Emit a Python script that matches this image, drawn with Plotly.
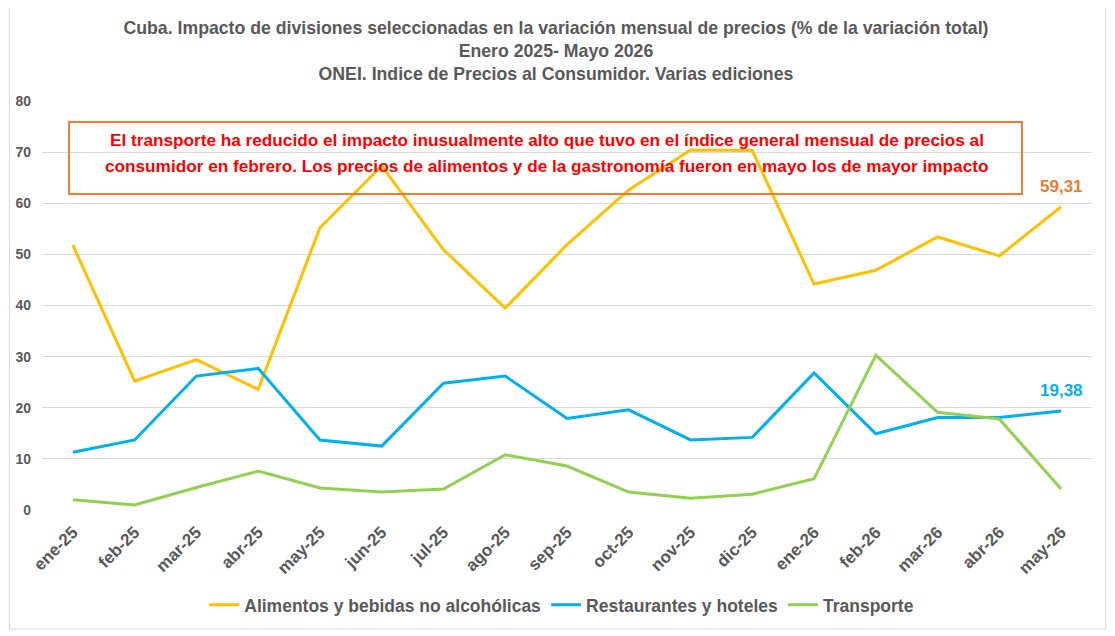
import plotly.graph_objects as go

meses = ['ene-25', 'feb-25', 'mar-25', 'abr-25', 'may-25', 'jun-25', 'jul-25', 'ago-25',
         'sep-25', 'oct-25', 'nov-25', 'dic-25', 'ene-26', 'feb-26', 'mar-26', 'abr-26', 'may-26']
alimentos = [51.8, 25.2, 29.4, 23.6, 55.2, 67.3, 50.9, 39.5,
             51.9, 62.6, 70.4, 70.3, 44.2, 46.9, 53.4, 49.7, 59.31]
restaurantes = [11.3, 13.7, 26.2, 27.7, 13.7, 12.5, 24.8, 26.2,
                17.9, 19.6, 13.7, 14.2, 26.8, 14.9, 18.1, 18.1, 19.38]
transporte = [2.0, 1.0, 4.4, 7.6, 4.3, 3.5, 4.1, 10.8,
              8.6, 3.5, 2.3, 3.1, 6.1, 30.3, 19.1, 17.8, 4.1]

gris = '#595959'
fuente = 'Liberation Sans, Arial, sans-serif'

fig = go.Figure()
fig.add_trace(go.Scatter(x=meses, y=alimentos, mode='lines', name='Alimentos y bebidas no alcohólicas',
                         line=dict(color='#FFC000', width=3)))
fig.add_trace(go.Scatter(x=meses, y=restaurantes, mode='lines', name='Restaurantes y hoteles',
                         line=dict(color='#00B0F0', width=3)))
fig.add_trace(go.Scatter(x=meses, y=transporte, mode='lines', name='Transporte',
                         line=dict(color='#92D050', width=3)))

# etiquetas del ultimo valor
fig.add_annotation(x=meses[-1], y=alimentos[-1], text='59,31', showarrow=False, yshift=20,
                   font=dict(color='#ED7D31', size=17, family=fuente, weight='bold'))
fig.add_annotation(x=meses[-1], y=restaurantes[-1], text='19,38', showarrow=False, yshift=20,
                   font=dict(color='#00B0F0', size=17, family=fuente, weight='bold'))

# cuadro de texto
fig.add_shape(type='rect', xref='paper', yref='paper', x0=0.0257, x1=0.9333, y0=0.7726, y1=0.9487,
              line=dict(color='#ED7D31', width=2), fillcolor='rgba(0,0,0,0)')
lineas = ['El transporte ha reducido el impacto inusualmente alto que tuvo en el índice general mensual de precios al',
          'consumidor en febrero. Los precios de alimentos y de la gastronomía fueron en mayo los de mayor impacto']
for txt, yy in zip(lineas, [0.9046, 0.8411]):
    fig.add_annotation(xref='paper', yref='paper', x=0.4805, y=yy, yanchor='middle', showarrow=False,
                       text=txt, font=dict(color='#FF0000', size=17.2, family=fuente, weight='bold'))

# borde del grafico
fig.add_shape(type='rect', xref='paper', yref='paper', x0=-0.031, x1=1.013, y0=-0.291, y1=1.3,
              line=dict(color='#D9D9D9', width=1), layer='below')

fig.update_layout(
    width=1107, height=628,
    margin=dict(l=34, r=23, t=93, b=126),
    paper_bgcolor='white', plot_bgcolor='white',
    title=dict(text='Cuba. Impacto de divisiones seleccionadas en la variación mensual de precios (% de la variación total)<br>'
                    'Enero 2025- Mayo 2026<br>ONEI. Indice de Precios al Consumidor. Varias ediciones',
               x=0.495, xanchor='center', y=0.959, yanchor='middle',
               font=dict(size=17.7, color=gris, family=fuente, weight='bold')),
    legend=dict(orientation='h', x=0.495, xanchor='center', y=-0.232, yanchor='middle',
                font=dict(size=17.5, color=gris, family=fuente, weight='bold'), itemwidth=30),
    showlegend=True,
)
fig.update_xaxes(range=[-0.5, 16.5], tickangle=-45, automargin=False, ticklabelstandoff=8,
                 tickfont=dict(size=17, color=gris, family=fuente, weight='bold'),
                 showgrid=False, showline=False, ticks='')
fig.update_yaxes(range=[0, 80], dtick=10, gridcolor='#D9D9D9', gridwidth=1, zeroline=False, automargin=False,
                 ticklabelstandoff=10,
                 tickfont=dict(size=14, color=gris, family=fuente, weight='bold'), ticks='')

fig.write_html('out.html')
